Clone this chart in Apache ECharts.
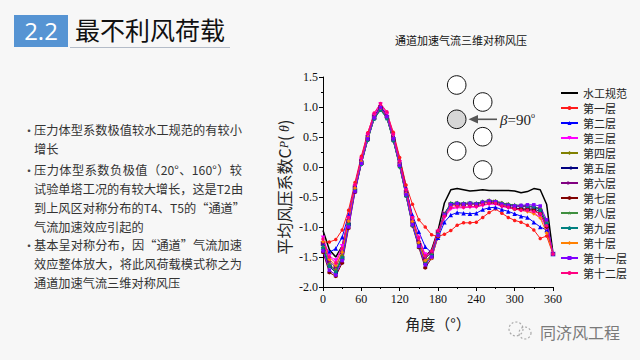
<!DOCTYPE html>
<html><head><meta charset="utf-8">
<script src="https://cdn.jsdelivr.net/npm/echarts@6/dist/echarts.min.js"></script>
<style>
html,body{margin:0;padding:0;background:#f7f7f7;}
#wrap{position:relative;width:640px;height:360px;overflow:hidden;background:#f7f7f7;font-family:"Noto Sans CJK SC","Noto Sans",sans-serif;}
#chart{position:absolute;left:0;top:0;width:640px;height:360px;}
.hbox{position:absolute;left:14px;top:15px;width:54px;height:32px;background:#5694d3;color:#fff;font-family:"Open Sans","Noto Sans",sans-serif;font-size:24px;line-height:32px;text-align:center;}
.htitle{position:absolute;left:75px;top:12px;font-size:25px;line-height:35px;color:#111;}
.hline{position:absolute;left:70px;top:47px;width:160px;height:1px;background:#b4bcc8;}
.bul{position:absolute;left:23px;font-size:12px;color:#444;}
.ln{position:absolute;left:34px;width:208px;font-size:12.2px;line-height:19px;color:#333;white-space:nowrap;}
.j{text-align:justify;text-align-last:justify;}
</style>
</head><body>
<div id="wrap">
<div id="chart"></div>
<div class="hbox">2.2</div>
<div class="htitle">最不利风荷载</div>
<div class="hline"></div>

<div class="bul" style="top:122px">•</div>
<div class="ln j" style="top:121px">压力体型系数极值较水工规范的有较小</div>
<div class="ln" style="top:140px">增长</div>

<div class="bul" style="top:162px">•</div>
<div class="ln j" style="top:161px">压力体型系数负极值（20°、160°）较</div>
<div class="ln j" style="top:180px">试验单塔工况的有较大增长，这是T2由</div>
<div class="ln j" style="top:199px">到上风区对称分布的T4、T5的“通道”</div>
<div class="ln" style="top:218px">气流加速效应引起的</div>

<div class="bul" style="top:237px">•</div>
<div class="ln j" style="top:236px">基本呈对称分布，因“通道”气流加速</div>
<div class="ln j" style="top:255px">效应整体放大，将此风荷载模式称之为</div>
<div class="ln" style="top:274px">通道加速气流三维对称风压</div>
</div>
<script>
// ---- data ----
const angles = [0,10,20,30,40,50,60,70,80,90,100,110,120,130,140,150,160,170,180,190,200,210,220,230,240,250,260,270,280,290,300,310,320,330,340,350,360];
const xTickLabels = [0,60,120,180,240,300,360];
const yTickLabels = [-2.0,-1.5,-1.0,-0.5,0.0,0.5,1.0,1.5];
const seriesNames = ['水工规范','第一层','第二层','第三层','第四层','第五层','第六层','第七层','第八层','第九层','第十层','第十一层','第十二层'];

const code = [-1.06,-1.38,-1.50,-1.32,-0.88,-0.34,0.12,0.52,0.85,1.00,0.85,0.52,0.12,-0.34,-0.88,-1.32,-1.50,-1.38,-1.06,-0.60,-0.38,-0.36,-0.38,-0.40,-0.39,-0.38,-0.39,-0.39,-0.39,-0.39,-0.40,-0.43,-0.41,-0.36,-0.38,-0.62,-1.44];
const layer1 = [-1.25,-1.25,-1.21,-1.05,-0.72,-0.26,0.18,0.57,0.88,1.03,0.90,0.58,0.16,-0.30,-0.62,-0.88,-1.00,-1.13,-1.16,-1.12,-1.06,-0.97,-0.93,-0.93,-0.92,-0.84,-0.76,-0.70,-0.77,-0.84,-0.89,-0.92,-0.97,-1.05,-1.19,-1.15,-1.45];
const layer2 = [-1.28,-1.42,-1.36,-1.17,-0.80,-0.30,0.13,0.52,0.85,1.00,0.87,0.52,0.10,-0.36,-0.80,-1.08,-1.33,-1.43,-1.18,-0.92,-0.80,-0.76,-0.77,-0.78,-0.77,-0.71,-0.68,-0.67,-0.71,-0.74,-0.78,-0.82,-0.84,-0.92,-1.00,-1.05,-1.45];
const layer3 = [-1.18,-1.48,-1.56,-1.32,-0.85,-0.32,0.12,0.52,0.86,1.04,0.88,0.52,0.08,-0.40,-0.86,-1.18,-1.46,-1.45,-1.12,-0.85,-0.70,-0.68,-0.68,-0.67,-0.67,-0.64,-0.62,-0.62,-0.66,-0.68,-0.70,-0.72,-0.74,-0.76,-0.84,-1.02,-1.45];
const layer4 = [-1.34,-1.62,-1.72,-1.48,-0.94,-0.38,0.07,0.47,0.81,0.97,0.83,0.46,0.03,-0.46,-0.94,-1.28,-1.57,-1.46,-1.12,-0.78,-0.61,-0.60,-0.61,-0.60,-0.61,-0.58,-0.56,-0.57,-0.60,-0.62,-0.64,-0.65,-0.66,-0.66,-0.70,-0.92,-1.45];
const layer5 = [-1.38,-1.66,-1.76,-1.52,-0.96,-0.39,0.07,0.47,0.82,0.98,0.83,0.46,0.03,-0.45,-0.95,-1.30,-1.62,-1.48,-1.14,-0.79,-0.62,-0.62,-0.62,-0.61,-0.62,-0.60,-0.58,-0.59,-0.63,-0.66,-0.68,-0.70,-0.70,-0.70,-0.74,-0.98,-1.45];
const layer6 = [-1.27,-1.57,-1.67,-1.42,-0.90,-0.34,0.10,0.50,0.84,1.00,0.86,0.49,0.06,-0.42,-0.90,-1.24,-1.53,-1.42,-1.08,-0.77,-0.62,-0.61,-0.62,-0.61,-0.62,-0.59,-0.57,-0.58,-0.61,-0.63,-0.65,-0.66,-0.66,-0.67,-0.70,-0.94,-1.45];
const layer7 = [-1.42,-1.76,-1.82,-1.60,-1.02,-0.42,0.05,0.45,0.81,0.98,0.82,0.44,0.01,-0.48,-0.98,-1.34,-1.68,-1.52,-1.16,-0.80,-0.63,-0.63,-0.63,-0.62,-0.63,-0.60,-0.59,-0.60,-0.64,-0.66,-0.70,-0.70,-0.71,-0.72,-0.78,-1.00,-1.45];
const layer8 = [-1.32,-1.63,-1.73,-1.50,-0.95,-0.38,0.06,0.46,0.80,0.95,0.82,0.45,0.02,-0.47,-0.95,-1.30,-1.59,-1.46,-1.11,-0.78,-0.61,-0.60,-0.61,-0.60,-0.61,-0.58,-0.56,-0.57,-0.60,-0.62,-0.63,-0.64,-0.65,-0.66,-0.70,-0.93,-1.45];
const layer9 = [-1.35,-1.65,-1.75,-1.51,-0.96,-0.39,0.05,0.45,0.80,0.95,0.81,0.44,0.01,-0.48,-0.97,-1.32,-1.61,-1.48,-1.13,-0.79,-0.61,-0.60,-0.61,-0.60,-0.61,-0.58,-0.57,-0.58,-0.61,-0.63,-0.64,-0.64,-0.65,-0.66,-0.72,-0.94,-1.45];
const layer10 = [-1.24,-1.54,-1.64,-1.42,-0.90,-0.35,0.09,0.49,0.83,0.98,0.84,0.48,0.05,-0.44,-0.91,-1.26,-1.56,-1.52,-1.15,-0.82,-0.64,-0.63,-0.63,-0.62,-0.63,-0.60,-0.58,-0.59,-0.63,-0.66,-0.70,-0.72,-0.74,-0.78,-0.85,-1.10,-1.45];
const layer11 = [-1.40,-1.72,-1.80,-1.56,-1.00,-0.41,0.06,0.47,0.82,0.99,0.84,0.47,0.03,-0.46,-0.96,-1.32,-1.63,-1.50,-1.14,-0.80,-0.63,-0.61,-0.62,-0.61,-0.62,-0.59,-0.57,-0.58,-0.62,-0.64,-0.65,-0.64,-0.63,-0.63,-0.65,-0.88,-1.45];
const layer12 = [-1.20,-1.50,-1.60,-1.36,-0.84,-0.29,0.15,0.56,0.90,1.06,0.92,0.55,0.10,-0.38,-0.84,-1.18,-1.48,-1.40,-1.06,-0.82,-0.68,-0.66,-0.67,-0.66,-0.66,-0.63,-0.61,-0.61,-0.65,-0.67,-0.70,-0.72,-0.72,-0.74,-0.78,-0.98,-1.45];

const allValues = [code,layer1,layer2,layer3,layer4,layer5,layer6,layer7,layer8,layer9,layer10,layer11,layer12];

// ---- styles ----
const HEX='path://M0,-10L8.66,-5L8.66,5L0,10L-8.66,5L-8.66,-5Z';
const STAR='path://M0,-10L2.35,-3.24L9.51,-3.09L3.8,1.24L5.88,8.09L0,4L-5.88,8.09L-3.8,1.24L-9.51,-3.09L-2.35,-3.24Z';
const PENT='path://M0,-10L9.51,-3.09L5.88,8.09L-5.88,8.09L-9.51,-3.09Z';
const colors = ['#000000','#ff1a1a','#0000ff','#ff00ff','#808000','#000080','#800080','#800000','#3f8f3f','#008080','#ff8000','#8000ff','#ff0080'];
const symbols = ['none','circle','triangle','triangle','diamond','triangle','triangle',HEX,STAR,PENT,'diamond','rect','circle'];
const rotations = [0,0,0,180,0,90,-90,0,0,0,0,0,0];
const sizes = [0,3.5,4.5,4.5,4.5,4.5,4.5,4,4.5,4,4,3.5,3.5];

const chart = echarts.init(document.getElementById('chart'), null, {renderer:'svg'});

const series = allValues.map((vals, k) => ({
  name: seriesNames[k],
  type: 'line',
  data: angles.map((a, i) => [a, vals[i]]),
  symbol: symbols[k],
  symbolSize: sizes[k],
  symbolRotate: rotations[k],
  showSymbol: k !== 0,
  lineStyle: {width: k === 0 ? 1.5 : 1, color: colors[k]},
  itemStyle: {color: colors[k]},
  emphasis: {disabled: true},
  z: k === 0 ? 1 : 2
}));

const serif = '"Liberation Serif","Times New Roman",serif';
const cjk = '"Noto Sans CJK SC","Noto Sans",sans-serif';

const legendData = seriesNames.map((n, k) => k === 0
  ? {name: n, itemStyle: {opacity: 0}, lineStyle: {width: 2, color: '#000'}}
  : {name: n});

const option = {
  animation: false,
  backgroundColor: 'transparent',
  grid: {left: 323, top: 77, width: 230, height: 210},
  xAxis: {
    type: 'value', min: xTickLabels[0], max: xTickLabels[xTickLabels.length-1], interval: 60,
    name: '角度（°）', nameLocation: 'middle', nameGap: 29,
    nameTextStyle: {fontSize: 15, fontFamily: cjk, color: '#222'},
    axisLine: {show: true, onZero: false, lineStyle: {color: '#000', width: 1}},
    axisTick: {show: true, length: 4, lineStyle: {color: '#000'}},
    minorTick: {show: true, splitNumber: 2, length: 2, lineStyle: {color: '#000'}},
    splitLine: {show: false},
    axisLabel: {fontSize: 12, fontFamily: serif, color: '#111', margin: 6}
  },
  yAxis: {
    type: 'value', min: yTickLabels[0], max: yTickLabels[yTickLabels.length-1], interval: 0.5,
    name: '平均风压系数C{p|P}( {t|θ})', nameLocation: 'middle', nameGap: 31, nameRotate: 90,
    nameTextStyle: {fontSize: 16, fontFamily: cjk, color: '#222', padding: [0, 10, 0, 0],
      rich: {p: {fontSize: 12, fontStyle: 'italic', fontFamily: serif, color: '#222'},
             t: {fontSize: 14, fontStyle: 'italic', fontFamily: serif, color: '#222'}}},
    axisLine: {show: true, lineStyle: {color: '#000', width: 1}},
    axisTick: {show: true, length: 4, lineStyle: {color: '#000'}},
    minorTick: {show: true, splitNumber: 2, length: 2, lineStyle: {color: '#000'}},
    splitLine: {show: false},
    axisLabel: {fontSize: 12, fontFamily: serif, color: '#111', margin: 5,
      formatter: v => v.toFixed(1)}
  },
  legend: {
    orient: 'vertical', left: 555, top: 82, itemWidth: 17, itemHeight: 5, itemGap: 3,
    data: legendData,
    textStyle: {fontSize: 11, lineHeight: 12, fontFamily: cjk, color: '#222'},
    selectedMode: false
  },
  series: series,
  graphic: [
    {type: 'text', x: 461, y: 40, style: {text: '通道加速气流三维对称风压', fontSize: 11, fontFamily: cjk, fill: '#111', textAlign: 'center', textVerticalAlign: 'middle'}},
    {type: 'circle', shape: {cx: 456.7, cy: 85, r: 9.3}, style: {fill: '#fff', stroke: '#111', lineWidth: 1}},
    {type: 'circle', shape: {cx: 482.7, cy: 102, r: 9.3}, style: {fill: '#fff', stroke: '#111', lineWidth: 1}},
    {type: 'circle', shape: {cx: 456.7, cy: 119.3, r: 9.3}, style: {fill: '#d6d6d6', stroke: '#111', lineWidth: 1}},
    {type: 'circle', shape: {cx: 482.7, cy: 136.7, r: 9.3}, style: {fill: '#fff', stroke: '#111', lineWidth: 1}},
    {type: 'circle', shape: {cx: 456.7, cy: 151, r: 9.3}, style: {fill: '#fff', stroke: '#111', lineWidth: 1}},
    {type: 'circle', shape: {cx: 482.7, cy: 170, r: 9.3}, style: {fill: '#fff', stroke: '#111', lineWidth: 1}},
    {type: 'line', shape: {x1: 497, y1: 119.3, x2: 476, y2: 119.3}, style: {stroke: '#555', lineWidth: 1.6}},
    {type: 'polygon', shape: {points: [[468.5,119.3],[478,115],[478,123.6]]}, style: {fill: '#555'}},
    {type: 'text', x: 500, y: 119.5, style: {text: '{b|β}{n|=90}{o|o}', textVerticalAlign: 'middle',
      rich: {b: {fontSize: 15, fontStyle: 'italic', fontFamily: serif, fill: '#222'},
             n: {fontSize: 15, fontFamily: serif, fill: '#222'},
             o: {fontSize: 8, fontFamily: serif, fill: '#222', verticalAlign: 'top', padding: [0,0,8,0]}}}},
    // watermark
    {type: 'circle', shape: {cx: 516, cy: 329, r: 7}, style: {fill: 'none', stroke: '#aaa', lineWidth: 1.2, lineDash: [2,2]}},
    {type: 'circle', shape: {cx: 525, cy: 333, r: 6}, style: {fill: 'none', stroke: '#aaa', lineWidth: 1.2, lineDash: [2,2]}},
    {type: 'text', x: 540, y: 332, style: {text: '同济风工程', fontSize: 16, fontFamily: cjk, fill: '#7a7a7a', textVerticalAlign: 'middle'}}
  ]
};
chart.setOption(option);
</script>
</body></html>
